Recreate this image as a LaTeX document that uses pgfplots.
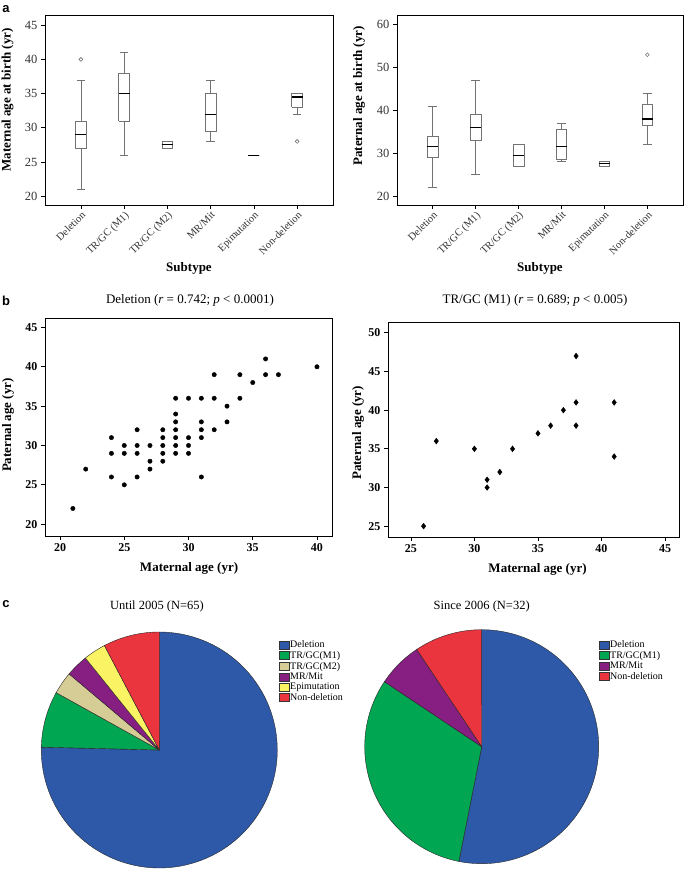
\documentclass[border=0pt]{standalone}
\usepackage{pgfplots}
\pgfplotsset{compat=1.18}
\usepackage{fontspec}
\setmainfont{Liberation Serif}
\newfontfamily\labfont{Liberation Sans}

\definecolor{cDel}{RGB}{46,89,168}
\definecolor{cMone}{RGB}{0,166,81}
\definecolor{cMtwo}{RGB}{214,204,150}
\definecolor{cMR}{RGB}{135,30,130}
\definecolor{cEpi}{RGB}{250,244,100}
\definecolor{cNon}{RGB}{234,52,62}

\newcommand{\fs}[1]{\fontsize{#1}{#1}\selectfont}

\pgfplotsset{
 boxax/.style={scale only axis, anchor=south west, xmin=-0.83, xmax=5.83,
   xtick={0,...,5},
   xticklabels={Deletion,TR/GC (M1),TR/GC (M2),MR/Mit,Epimutation,Non-deletion},
   x tick label style={rotate=45, anchor=north east, font=\fs{10.5}, inner sep=1pt, text=black!80},
   y tick label style={font=\fs{12.5}, text=black!80},
   tick align=outside, tick pos=left, major tick length=4pt,
   /pgf/number format/assume math mode=true,
   axis line style={line width=0.7pt}, tick style={line width=0.7pt, black},
   xlabel={Subtype},
   xlabel style={font=\fs{13}\bfseries, at={(axis description cs:0.5,-0.332)}, anchor=center},
   ylabel style={font=\fs{13}\bfseries, anchor=center},
   clip=false},
 bline/.style={draw=black!55, line width=0.7pt, mark=none},
 outl/.style={only marks, mark=o, mark size=1.9pt, black!55, mark options={line width=0.6pt}},
 scax/.style={scale only axis, anchor=south west, tick align=outside, tick pos=left,
   major tick length=4pt, tick label style={font=\fs{12}\bfseries},
   /pgf/number format/assume math mode=true,
   label style={font=\fs{13}\bfseries, anchor=center}, title style={font=\fs{13}, anchor=center},
   axis line style={line width=0.7pt}, tick style={line width=0.7pt,black}, clip=false},
 pieax/.style={scale only axis, anchor=south west, xmin=-1, xmax=1, ymin=-1, ymax=1,
   hide axis, clip=false, legend cell align=left,
   title style={font=\fs{12.5}, anchor=center},
   legend style={draw=none, fill=none, font=\fs{10}, anchor=north west,
     row sep=0.8pt, inner sep=0pt, nodes={inner sep=0.7pt}},
   legend image code/.code={\draw[#1, draw=black!80, line width=0.3pt] (0pt,-3.8pt) rectangle (10pt,4.2pt);}},
}

% box: position, lower whisker, lower quartile, median, upper quartile, upper whisker
\newcommand{\bx}[6]{%
 \pgfmathsetmacro\xa{#1-0.125}\pgfmathsetmacro\xb{#1+0.125}%
 \pgfmathsetmacro\ca{#1-0.1}\pgfmathsetmacro\cb{#1+0.1}%
 \addplot[bline] coordinates {(#1,#2) (#1,#3)};
 \addplot[bline] coordinates {(#1,#5) (#1,#6)};
 \addplot[bline] coordinates {(\ca,#2) (\cb,#2)};
 \addplot[bline] coordinates {(\ca,#6) (\cb,#6)};
 \addplot[bline, fill=white] coordinates {(\xa,#3) (\xb,#3) (\xb,#5) (\xa,#5) (\xa,#3)};
 \addplot[draw=black, line width=1.1pt, mark=none] coordinates {(\xa,#4) (\xb,#4)};
}

\newcommand{\pieslice}[4]{%
 \addplot[fill=#4, draw=black!85, line width=0.4pt, domain=90-360*#2/#3:90-360*#1/#3, samples=100, variable=\t] ({cos(\t)},{sin(\t)}) -- (axis cs:0,0) -- cycle;}

\pgfplotstableread{
m p
21 22
22 27
24 31
24 29
24 26
25 30
25 29
25 25
26 32
26 30
26 29
26 26
27 30
27 28
27 27
28 32
28 31
28 30
28 29
28 28
29 36
29 34
29 33
29 32
29 31
29 30
29 29
30 36
30 31
30 30
30 29
31 36
31 33
31 32
31 31
31 26
32 39
32 36
32 32
33 35
33 33
34 39
34 36
35 38
36 41
36 39
37 39
40 40
}\deltab

\pgfplotstableread{
m p
26 25
27 36
30 35
31 31
31 30
32 32
33 35
35 37
36 38
37 40
38 47
38 41
38 38
41 41
41 34
}\monetab

\begin{document}
\begin{tikzpicture}
\path[use as bounding box] (0,0) rectangle (685pt,872pt);

% ---------- a: maternal ----------
\begin{axis}[boxax, at={(45pt,667pt)}, width=288pt, height=190pt,
  ymin=18.7, ymax=46.5, ytick={20,25,...,45},
  ylabel={Maternal age at birth (yr)},
  ylabel style={at={(axis description cs:-0.130,0.553)}}]
\bx{0}{21}{27}{29}{31}{37}
\bx{1}{26}{31}{35}{38}{41}
\bx{2}{27}{27}{27.5}{28}{28}
\bx{3}{28}{29.5}{32}{35}{37}
\bx{4}{26}{26}{26}{26}{26}
\bx{5}{32}{33}{34.5}{35}{35}
\addplot[outl] coordinates {(0,40) (5,28)};
\end{axis}

% ---------- a: paternal ----------
\begin{axis}[boxax, at={(397pt,667pt)}, width=286pt, height=190pt,
  ymin=17.9, ymax=62.3, ytick={20,30,...,60},
  ylabel={Paternal age at birth (yr)},
  ylabel style={at={(axis description cs:-0.133,0.574)}}]
\bx{0}{22}{29}{31.5}{34}{41}
\bx{1}{25}{33}{36}{39}{47}
\bx{2}{27}{27}{29.5}{32}{32}
\bx{3}{28}{28.5}{31.5}{35.5}{37}
\bx{4}{27}{27}{27.5}{28}{28}
\bx{5}{32}{36.5}{38}{41.5}{44}
\addplot[outl] coordinates {(5,53)};
\end{axis}

% ---------- b: deletion scatter ----------
\begin{axis}[scax, at={(45pt,336pt)}, width=287pt, height=218pt,
  xmin=18.83, xmax=41.17, ymin=18.5, ymax=46.2,
  xtick={20,25,...,40}, ytick={20,25,...,45},
  xlabel={Maternal age (yr)}, ylabel={Paternal age (yr)},
  xlabel style={at={(axis description cs:0.502,-0.151)}},
  ylabel style={at={(axis description cs:-0.129,0.509)}},
  title={Deletion (\textit{r} = 0.742; \textit{p} < 0.0001)},
  title style={at={(axis description cs:0.505,1.055)}}]
\addplot[only marks, mark=*, mark size=2.2pt, black] table[x=m, y=p] {\deltab};
\end{axis}

% ---------- b: TR/GC(M1) scatter ----------
\begin{axis}[scax, at={(388pt,335pt)}, width=291pt, height=215pt,
  xmin=23.2, xmax=46.1, ymin=23.6, ymax=51.4,
  xtick={25,30,...,45}, ytick={25,30,...,50},
  xlabel={Maternal age (yr)}, ylabel={Paternal age (yr)},
  xlabel style={at={(axis description cs:0.514,-0.149)}},
  ylabel style={at={(axis description cs:-0.103,0.484)}},
  title={TR/GC (M1) (\textit{r} = 0.689; \textit{p} < 0.005)},
  title style={at={(axis description cs:0.505,1.074)}}]
\addplot[only marks, mark=diamond*, mark size=2.9pt, black] table[x=m, y=p] {\monetab};
\end{axis}

% ---------- c: until 2005 ----------
\begin{axis}[pieax, at={(41.3pt,4pt)}, width=236pt, height=236pt,
  title={Until 2005 (N=65)}, title style={at={(axis description cs:0.490,1.082)}},
  legend style={at={(axis description cs:1.007,0.966)}}]
\pieslice{0}{49}{65}{cDel}
\addlegendentry{Deletion}
\pieslice{49}{54}{65}{cMone}
\addlegendentry{TR/GC(M1)}
\pieslice{54}{56}{65}{cMtwo}
\addlegendentry{TR/GC(M2)}
\pieslice{56}{58}{65}{cMR}
\addlegendentry{MR/Mit}
\pieslice{58}{60}{65}{cEpi}
\addlegendentry{Epimutation}
\pieslice{60}{65}{65}{cNon}
\addlegendentry{Non-deletion}
\end{axis}

% ---------- c: since 2006 ----------
\begin{axis}[pieax, at={(364.7pt,8.3pt)}, width=234pt, height=234pt,
  title={Since 2006 (N=32)}, title style={at={(axis description cs:0.5,1.073)}},
  legend style={at={(axis description cs:1.001,0.956)}}]
\pieslice{0}{17}{32}{cDel}
\addlegendentry{Deletion}
\pieslice{17}{27}{32}{cMone}
\addlegendentry{TR/GC(M1)}
\pieslice{27}{29}{32}{cMR}
\addlegendentry{MR/Mit}
\pieslice{29}{32}{32}{cNon}
\addlegendentry{Non-deletion}
\end{axis}

\node[font=\labfont\bfseries\fs{13}] at (6pt,863pt) {a};
\node[font=\labfont\bfseries\fs{13}] at (6pt,571pt) {b};
\node[font=\labfont\bfseries\fs{13}] at (6pt,268pt) {c};
\end{tikzpicture}
\end{document}
